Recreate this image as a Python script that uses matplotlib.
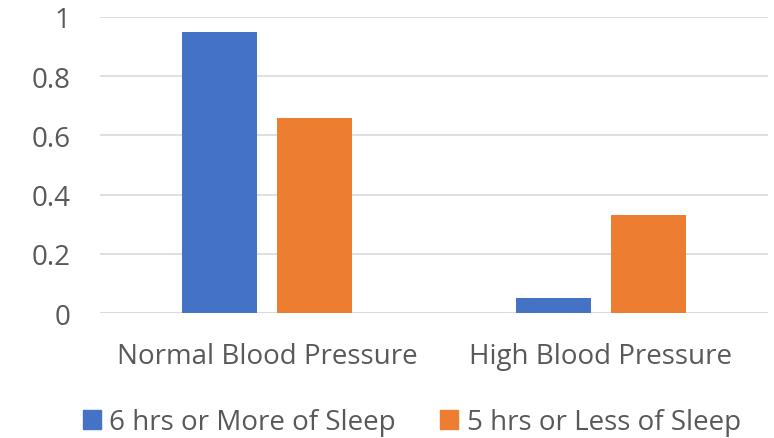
import numpy as np
import matplotlib.pyplot as plt
from matplotlib.patches import Patch

categories = ["Normal Blood Pressure", "High Blood Pressure"]
series_names = ["6 hrs or More of Sleep", "5 hrs or Less of Sleep"]
more_sleep = [0.95, 0.05]
less_sleep = [0.66, 0.33]
y_ticks = [0, 0.2, 0.4, 0.6, 0.8, 1]
y_tick_labels = ["0", "0.2", "0.4", "0.6", "0.8", "1"]

BLUE = "#4472C4"
ORANGE = "#ED7D31"
TEXT = "#595959"

plt.rcParams["font.family"] = ["Open Sans", "DejaVu Sans"]

fig = plt.figure(figsize=(7.74, 4.39), dpi=100)
ax = fig.add_axes([0.129, 0.2847, 0.863, 0.6743])

x = np.arange(len(categories))
width = 0.2246
offset = 0.142
ax.bar(x - offset, more_sleep, width, color=BLUE, zorder=3)
ax.bar(x + offset, less_sleep, width, color=ORANGE, zorder=3)

ax.set_xlim(-0.5, 1.5)
ax.set_ylim(0, 1)
ax.set_yticks(y_ticks)
ax.set_yticklabels(y_tick_labels)
ax.set_xticks(x)
ax.set_xticklabels(categories)
ax.yaxis.grid(True, color="#D9D9D9", linewidth=1.2, zorder=0)
for side in ["top", "right", "left", "bottom"]:
    ax.spines[side].set_visible(False)
ax.axhline(0, color="#D9D9D9", linewidth=1.2, zorder=1)
ax.tick_params(axis="both", length=0, labelsize=20, labelcolor=TEXT)
ax.tick_params(axis="y", pad=21)
ax.tick_params(axis="x", pad=21)

handles = [Patch(color=BLUE, label=series_names[0]),
           Patch(color=ORANGE, label=series_names[1])]
fig.legend(handles=handles, loc="center", bbox_to_anchor=(0.532, 0.036),
           ncol=2, frameon=False, fontsize=20, labelcolor=TEXT,
           handlelength=0.65, handleheight=0.65, handletextpad=0.3,
           columnspacing=1.6)

fig.savefig("out.png", dpi=100)
